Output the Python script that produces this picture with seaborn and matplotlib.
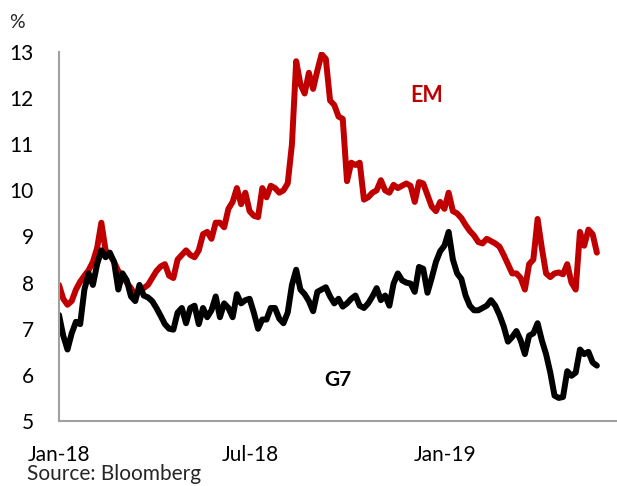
import matplotlib
matplotlib.use("Agg")
import matplotlib.pyplot as plt
import seaborn as sns
import pandas as pd
import numpy as np

# ---- data, one value every 4 days from 1 Jan 2018 ----
start_date = "2018-01-01"
step = "4D"

em = [7.95, 7.65, 7.52, 7.60, 7.85, 8.02, 8.15, 8.27, 8.45, 8.75,
      9.30, 8.70, 8.60, 8.45, 8.25, 8.15, 8.00, 7.88, 7.72, 7.85,
      7.88, 7.95, 8.10, 8.25, 8.35, 8.40, 8.15, 8.10, 8.50, 8.60,
      8.70, 8.60, 8.55, 8.70, 9.05, 9.10, 8.95, 9.30, 9.30, 9.20,
      9.60, 9.75, 10.05, 9.70, 9.95, 9.55, 9.45, 9.42, 10.05, 9.85,
      10.10, 10.05, 9.95, 10.00, 10.15, 11.00, 12.80, 12.30, 12.10, 12.55,
      12.20, 12.60, 12.95, 12.85, 11.95, 11.85, 11.60, 11.55, 10.20, 10.60,
      10.55, 10.60, 9.80, 9.85, 9.95, 10.00, 10.22, 10.00, 9.95, 10.12,
      10.05, 10.10, 10.15, 10.10, 9.75, 10.18, 10.15, 9.90, 9.65, 9.55,
      9.75, 9.60, 9.95, 9.55, 9.50, 9.40, 9.25, 9.12, 9.02, 8.88,
      8.85, 8.95, 8.90, 8.85, 8.78, 8.60, 8.40, 8.20, 8.20, 8.10,
      7.85, 8.40, 8.50, 9.38, 8.75, 8.20, 8.12, 8.20, 8.22, 8.18,
      8.40, 8.00, 7.85, 9.10, 8.80, 9.15, 9.05, 8.65]

g7 = [7.30, 6.85, 6.55, 6.90, 7.15, 7.10, 7.85, 8.20, 7.95, 8.40,
      8.70, 8.55, 8.65, 8.45, 7.85, 8.20, 8.05, 7.70, 7.60, 7.95,
      7.72, 7.68, 7.60, 7.45, 7.28, 7.10, 7.00, 6.98, 7.35, 7.45,
      7.12, 7.45, 7.50, 7.10, 7.45, 7.25, 7.40, 7.70, 7.25, 7.55,
      7.45, 7.25, 7.75, 7.55, 7.62, 7.65, 7.35, 7.00, 7.20, 7.20,
      7.45, 7.45, 7.22, 7.12, 7.35, 7.95, 8.28, 7.85, 7.75, 7.60,
      7.38, 7.80, 7.85, 7.90, 7.70, 7.55, 7.65, 7.48, 7.55, 7.65,
      7.72, 7.50, 7.45, 7.55, 7.70, 7.88, 7.62, 7.72, 7.50, 7.98,
      8.20, 8.05, 8.00, 7.98, 7.80, 8.34, 8.30, 7.78, 8.10, 8.45,
      8.68, 8.80, 9.10, 8.50, 8.20, 8.08, 7.72, 7.50, 7.40, 7.40,
      7.45, 7.50, 7.62, 7.50, 7.30, 7.05, 6.72, 6.82, 6.95, 6.75,
      6.45, 6.85, 6.90, 7.12, 6.75, 6.45, 6.05, 5.55, 5.50, 5.52,
      6.08, 5.98, 6.05, 6.55, 6.45, 6.50, 6.27, 6.20]

series_names = ["EM", "G7"]
series_colors = ["#C00000", "#000000"]
x_tick_dates = ["2018-01-01", "2018-07-01", "2019-01-01"]
x_tick_labels = ["Jan-18", "Jul-18", "Jan-19"]
y_ticks = [5, 6, 7, 8, 9, 10, 11, 12, 13]

dates = pd.date_range(start_date, periods=len(em), freq=step)
df = pd.concat([
    pd.DataFrame({"date": dates, "value": em, "series": "EM"}),
    pd.DataFrame({"date": dates, "value": g7, "series": "G7"}),
])

sns.set_theme(style="white")
plt.rcParams["font.family"] = ["Lato", "DejaVu Sans"]

W, H = 617, 486
fig = plt.figure(figsize=(W / 100, H / 100), dpi=100)
ax = fig.add_axes([59 / W, 1 - 421 / H, (617 - 59) / W, (421 - 52) / H])

sns.lineplot(data=df, x="date", y="value", hue="series", hue_order=series_names,
             palette=series_colors, linewidth=4.3, legend=False, ax=ax)

ax.set_ylim(5, 13)
ax.set_xlim(pd.Timestamp("2018-01-01"), pd.Timestamp("2019-06-12"))
ax.set_yticks(y_ticks)
ax.set_yticklabels([str(v) for v in y_ticks])
ax.set_xticks(pd.to_datetime(x_tick_dates))
ax.set_xticklabels(x_tick_labels)
ax.set_xlabel("")
ax.set_ylabel("")

for s in ["top", "right"]:
    ax.spines[s].set_visible(False)
for s in ["left", "bottom"]:
    ax.spines[s].set_color("#A0A0A0")
    ax.spines[s].set_linewidth(1.5)

ax.tick_params(axis="both", which="major", direction="out", color="#A0A0A0",
               width=1.5, labelsize=15, labelcolor="#000000")
ax.tick_params(axis="y", length=6, pad=12)
ax.tick_params(axis="x", length=5, pad=12)

fig.text(427 / W, 1 - 96 / H, "EM", color="#C00000", fontsize=15.5,
         fontweight="bold", ha="center", va="center")
fig.text(338 / W, 1 - 379.5 / H, "G7", color="#000000", fontsize=15,
         fontweight="bold", ha="center", va="center")
fig.text(16.5 / W, 1 - 22.5 / H, "%", fontsize=14, ha="center", va="center")
fig.text(27 / W, 1 - 480 / H, "Source: Bloomberg", fontsize=15, ha="left",
         va="baseline")

fig.savefig("out.png", dpi=100)
